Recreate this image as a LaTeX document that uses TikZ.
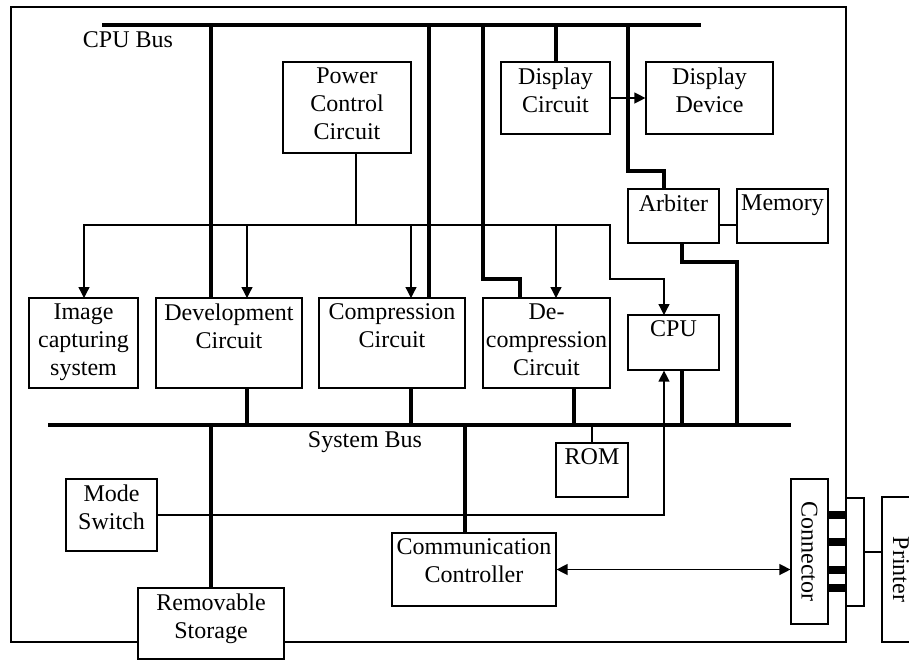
\documentclass[tikz,border=0pt]{standalone}
\usepackage{fontspec}
\setmainfont{Liberation Serif}
\usetikzlibrary{arrows.meta,fit}

\tikzset{
  blk/.style={draw, fill=white, inner sep=0pt, line width=0.6pt},
  txt/.style={anchor=north, align=center, inner sep=3pt},
  bus/.style={line width=2pt},
  sig/.style={line width=0.65pt},
  arr/.style={sig, -{Triangle[length=5.5pt,width=5.5pt]}},
  darr/.style={sig, {Triangle[length=5.5pt,width=5.5pt]}-{Triangle[length=5.5pt,width=5.5pt]}},
}

% box from two corners, text set at the top
\newcommand{\mkbox}[4]{%
  \node[blk, fit={#2 #3}] (#1) {};
  \node[txt] (#1-t) at (#1.north) {#4};}

\begin{document}
\begin{tikzpicture}[x=0.5pt, y=-0.5pt, font=\fontsize{12pt}{14pt}\selectfont]
  \useasboundingbox (0,0) rectangle (909,660);
  % camera body
  \draw[sig] (11,7) rectangle (846,642);

  % the two buses
  \coordinate (cpubusW) at (102,25);
  \coordinate (cpubusE) at (701,25);
  \coordinate (sysbusW) at (48,425);
  \coordinate (sysbusE) at (791,425);
  \draw[bus] (cpubusW) -- (cpubusE);
  \draw[bus] (sysbusW) -- (sysbusE);
  \node (cpubuslbl) at (128,40) {CPU Bus};
  \node (sysbuslbl) at (365,442) {System Bus};

  % taps on the CPU bus
  \draw[bus] (211,25) -- (211,298);
  \draw[bus] (429,25) -- (429,298);
  \draw[bus] (483,25) |- (520,279) -- (520,298);
  \draw[bus] (556,25) -- (556,62);
  \draw[bus] (628,25) |- (664,171) -- (664,189);
  % taps on the system bus
  \draw[bus] (682,243) |- (737,262) -- (737,425);
  \draw[bus] (247,388) -- (247,425);
  \draw[bus] (411,388) -- (411,425);
  \draw[bus] (574,388) -- (574,425);
  \draw[bus] (682,370) -- (682,425);
  \draw[bus] (211,425) -- (211,588);
  \draw[bus] (465,425) -- (465,533);
  \draw[sig] (592,425) -- (592,443);

  % power distribution
  \coordinate (pwrtap) at (356,225);
  \draw[sig] (356,153) -- (pwrtap);
  \draw[arr] (pwrtap) -| (84,298);
  \draw[arr] (247,225) -- (247,298);
  \draw[arr] (411,225) -- (411,298);
  \draw[arr] (pwrtap) -| (556,298);
  \draw[arr] (pwrtap) -| (610,279) -| (664,315);

  \mkbox{pcc}{(283,62)}{(411,153)}{Power\\Control\\Circuit}
  \mkbox{dispc}{(501,62)}{(610,134)}{Display\\Circuit}
  \mkbox{dispd}{(646,62)}{(773,134)}{Display\\Device}
  \mkbox{arb}{(628,189)}{(719,243)}{Arbiter}
  \mkbox{mem}{(737,189)}{(828,243)}{Memory}
  \mkbox{img}{(29,298)}{(138,388)}{Image\\capturing\\system}
  \mkbox{dev}{(156,298)}{(302,388)}{Development\\Circuit}
  \mkbox{comp}{(319,298)}{(465,388)}{Compression\\Circuit}
  \mkbox{decomp}{(483,298)}{(610,388)}{De-\\compression\\Circuit}
  \mkbox{cpu}{(628,315)}{(719,370)}{CPU}
  \mkbox{rom}{(556,443)}{(628,497)}{ROM}
  \mkbox{mode}{(66,479)}{(157,551)}{Mode\\Switch}
  \mkbox{comm}{(392,533)}{(556,606)}{Communication\\Controller}
  \mkbox{stor}{(138,588)}{(284,659)}{Removable\\Storage}
  \node[blk, fit={(791,479) (828,624)}] (conn) {};
  \node[rotate=-90] (conn-t) at (conn) {Connector};
  \node[blk, fit={(882,497) (920,642)}] (prn) {};
  \node[rotate=-90] (prn-t) at (prn) {Printer};

  \draw[arr] (dispc) -- (dispd);
  \draw[sig] (arb.east |- 0,225) -- (mem.west |- 0,225);
  \draw[arr] (mode.east) -| (cpu.south -| 664,0);
  \draw[darr] (comm.east) -- (conn.west |- comm.east);

  % connector pins and printer cable
  \foreach \y in {515,542,570,588}
    \draw[line width=4pt] (conn.east |- 0,\y) -- (846,\y);
  \coordinate (plug) at (864,552);
  \draw[sig] (846,498) -| (864,606) -- (846,606);
  \draw[sig] (plug) -- (prn.west |- plug);
\end{tikzpicture}
\end{document}
